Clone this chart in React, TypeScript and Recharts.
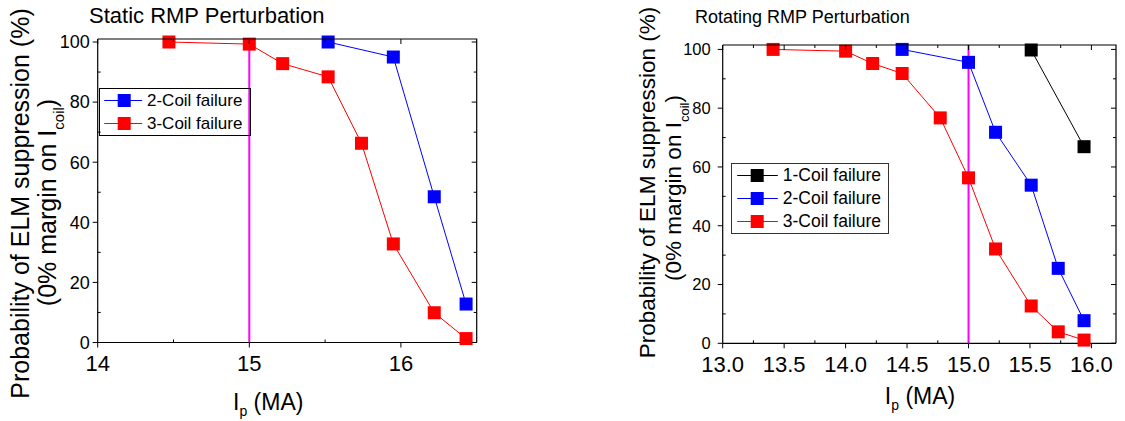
import React from 'react';
import { LineChart, Line, XAxis, YAxis, Legend } from 'recharts';

const FONT = '"Liberation Sans", Arial, Helvetica, sans-serif';

// ---- Static RMP perturbation (left panel) ----
const staticIp2 = [15.52, 15.95, 16.22, 16.43];
const staticP2 = [100, 95, 48.5, 12.8];
const staticIp3 = [14.47, 15.0, 15.22, 15.52, 15.74, 15.95, 16.22, 16.43];
const staticP3 = [100, 99.3, 92.8, 88.4, 66.3, 32.8, 9.9, 1.3];

// ---- Rotating RMP perturbation (right panel) ----
const rotIp1 = [15.51, 15.94];
const rotP1 = [99.8, 66.9];
const rotIp2 = [14.46, 15.0, 15.22, 15.51, 15.73, 15.94];
const rotP2 = [100, 95.6, 71.8, 53.8, 25.5, 7.7];
const rotIp3 = [13.41, 14.0, 14.22, 14.46, 14.77, 15.0, 15.22, 15.51, 15.73, 15.94];
const rotP3 = [100, 99.4, 95.2, 91.8, 76.7, 56.3, 32.1, 12.7, 3.9, 1.1];

// reference plasma current (vertical magenta line)
const ipLimit = 15;

// axes
const staticXDomain = [14, 16.5];
const staticXTicks = [14, 15, 16];
const staticXMinor = [14.5, 15.5];
const rotXDomain = [13, 16.2];
const rotXTicks = [13, 13.5, 14, 14.5, 15, 15.5, 16];
const rotXMinor = [13.25, 13.75, 14.25, 14.75, 15.25, 15.75];
const staticYMax = 101;
const rotYMax = 101.5;
const yTicks = [0, 20, 40, 60, 80, 100];
const yMinor = [10, 30, 50, 70, 90];

const seriesNames = ['1-Coil failure', '2-Coil failure', '3-Coil failure'];
const seriesColors = ['#000000', '#0000FF', '#FF0000'];
const limitColor = '#FF00FF';

const zip = (xs: number[], ys: number[]) => xs.map((x, i) => ({ ip: x, p: ys[i] }));
const vline = (x: number, top: number) => [
  { ip: x, p: 0 },
  { ip: x, p: top },
];

// chart geometry
const L = { left: 0, w: 560, h: 421, top: 39, right: 83.3, yAxisW: 97.7, xAxisH: 78.5 };
const R = { left: 560, w: 565, h: 421, top: 45, right: 9, yAxisW: 162.7, xAxisH: 77.7 };

const squareDot = (color: string, size: number) => (props: any) => {
  const { cx, cy, index } = props;
  if (cx == null || cy == null) return <g key={`e${index}`} />;
  return <rect key={`d${index}`} x={cx - size / 2} y={cy - size / 2} width={size} height={size} fill={color} />;
};

const XTitle = ({ vb, cxOff, dy, size, subDy, subSize }: any) => {
  const cx = vb.x + vb.width / 2 + cxOff;
  const by = vb.y + dy;
  return (
    <text x={cx} y={by} textAnchor="middle" fontSize={size} fontFamily={FONT} fill="#000">
      I
      <tspan dy={subDy} fontSize={subSize}>p</tspan>
      <tspan dy={-subDy}> (MA)</tspan>
    </text>
  );
};

const YTitle = ({ b1, b2, c1, c2, size, subDy, subSize }: any) => (
  <g fontFamily={FONT} fill="#000">
    <text x={b1} y={c1} transform={`rotate(-90 ${b1} ${c1})`} textAnchor="middle" fontSize={size}>
      Probability of ELM suppression (%)
    </text>
    <text x={b2} y={c2} transform={`rotate(-90 ${b2} ${c2})`} textAnchor="middle" fontSize={size}>
      (0% margin on I
      <tspan dy={subDy} fontSize={subSize}>coil</tspan>
      <tspan dy={-subDy}>)</tspan>
    </text>
  </g>
);

const LegendBox = ({ payload, textSize, lineX1, lineX2, markX, svgW, border }: any) => (
  <div style={{ border, boxSizing: 'border-box', fontFamily: FONT, background: 'transparent' }}>
    {(payload || [])
      .filter((e: any) => e.type !== 'none' && seriesNames.includes(e.value))
      .map((e: any) => (
        <div key={e.value} style={{ display: 'flex', alignItems: 'center', height: 23 }}>
          <svg width={svgW} height={23} style={{ display: 'block', flex: 'none' }}>
            <line x1={lineX1} x2={lineX2} y1={11.5} y2={11.5} stroke={e.color} strokeWidth={1} />
            <rect x={markX - 6.5} y={5} width={13} height={13} fill={e.color} />
          </svg>
          <span style={{ fontSize: textSize, color: '#000', whiteSpace: 'nowrap', lineHeight: '23px' }}>
            {e.value}
          </span>
        </div>
      ))}
  </div>
);

const axisLineStyle = { stroke: '#000', strokeWidth: 1.2 };
const tickLineStyle = { stroke: '#000', strokeWidth: 1 };

// Plot-box frame (top & right edges) with inward ticks, placed from the chart geometry
// and the tick arrays.
function Frame({ g, xDomain, xTicks, xMinor, yMax }: any) {
  const [x0, x1] = xDomain;
  const px0 = g.left + g.yAxisW;
  const pw = g.w - g.right - g.yAxisW;
  const py0 = g.top;
  const ph = g.h - g.top - g.xAxisH;
  const sx = (v: number) => px0 + ((v - x0) / (x1 - x0)) * pw;
  const sy = (v: number) => py0 + ph * (1 - v / yMax);
  const right = px0 + pw;
  const bottom = py0 + ph;
  const segs: any[] = [];
  xTicks.forEach((t: number) => segs.push([sx(t), py0, sx(t), py0 + 5]));
  xMinor.forEach((t: number) => segs.push([sx(t), py0, sx(t), py0 + 3]));
  xMinor.forEach((t: number) => segs.push([sx(t), bottom, sx(t), bottom - 3]));
  yTicks.forEach((t: number) => segs.push([right, sy(t), right - 5, sy(t)]));
  yMinor.forEach((t: number) => segs.push([right, sy(t), right - 3, sy(t)]));
  yMinor.forEach((t: number) => segs.push([px0, sy(t), px0 + 3, sy(t)]));
  return (
    <g>
      <polyline points={`${px0},${py0} ${right},${py0} ${right},${bottom}`} fill="none" stroke="#000" strokeWidth={1.2} />
      {segs.map((s, i) => (
        <line key={i} x1={s[0]} y1={s[1]} x2={s[2]} y2={s[3]} stroke="#000" strokeWidth={1} />
      ))}
    </g>
  );
}

function StaticChart() {
  const d2 = zip(staticIp2, staticP2);
  const d3 = zip(staticIp3, staticP3);
  const limit = vline(ipLimit, staticYMax);
  return (
    <LineChart width={L.w} height={L.h} margin={{ top: L.top, right: L.right, bottom: 0, left: 0 }}>
      <XAxis
        xAxisId="x"
        dataKey="ip"
        type="number"
        domain={staticXDomain}
        ticks={staticXTicks}
        interval={0}
        height={L.xAxisH}
        tickSize={5}
        tickMargin={8}
        axisLine={axisLineStyle}
        tickLine={tickLineStyle}
        tick={{ fontSize: 22, fill: '#000', fontFamily: FONT }}
        label={(p: any) => <XTitle vb={p.viewBox} cxOff={-19} dy={67.5} size={23} subDy={6} subSize={14} />}
      />
      <YAxis
        yAxisId="y"
        type="number"
        domain={[0, staticYMax]}
        ticks={yTicks}
        interval={0}
        width={L.yAxisW}
        tickSize={5}
        tickMargin={3}
        axisLine={axisLineStyle}
        tickLine={tickLineStyle}
        tick={{ fontSize: 18, fill: '#000', fontFamily: FONT }}
        label={() => <YTitle b1={28.5} b2={56} c1={203.5} c2={202.5} size={25} subDy={8} subSize={15} />}
      />
      <Line xAxisId="x" yAxisId="y" data={d2} dataKey="p" name={seriesNames[1]} stroke={seriesColors[1]}
        strokeWidth={1} dot={squareDot(seriesColors[1], 13)} activeDot={false} isAnimationActive={false} legendType="square" />
      <Line xAxisId="x" yAxisId="y" data={d3} dataKey="p" name={seriesNames[2]} stroke={seriesColors[2]}
        strokeWidth={1} dot={squareDot(seriesColors[2], 13)} activeDot={false} isAnimationActive={false} legendType="square" />
      <Line xAxisId="x" yAxisId="y" data={limit} dataKey="p" stroke={limitColor}
        strokeWidth={2} dot={false} activeDot={false} isAnimationActive={false} legendType="none" />
      <Legend
        layout="vertical"
        align="center"
        verticalAlign="middle"
        wrapperStyle={{ left: 99, top: 88, width: 152, height: 48 }}
        content={(p: any) => (
          <LegendBox payload={p.payload} textSize={17} lineX1={4.2} lineX2={42.2} markX={24.2} svgW={47}
            border="1.5px solid #000" />
        )}
      />
    </LineChart>
  );
}

function RotatingChart() {
  const d1 = zip(rotIp1, rotP1);
  const d2 = zip(rotIp2, rotP2);
  const d3 = zip(rotIp3, rotP3);
  const limit = vline(ipLimit, rotYMax);
  return (
    <LineChart width={R.w} height={R.h} margin={{ top: R.top, right: R.right, bottom: 0, left: 0 }}>
      <XAxis
        xAxisId="x"
        dataKey="ip"
        type="number"
        domain={rotXDomain}
        ticks={rotXTicks}
        interval={0}
        height={R.xAxisH}
        tickSize={5}
        tickMargin={8}
        axisLine={axisLineStyle}
        tickLine={tickLineStyle}
        tickFormatter={(v: number) => v.toFixed(1)}
        tick={{ fontSize: 22, fill: '#000', fontFamily: FONT }}
        label={(p: any) => <XTitle vb={p.viewBox} cxOff={0.7} dy={60.7} size={23} subDy={6} subSize={14} />}
      />
      <YAxis
        yAxisId="y"
        type="number"
        domain={[0, rotYMax]}
        ticks={yTicks}
        interval={0}
        width={R.yAxisW}
        tickSize={5}
        tickMargin={7}
        axisLine={axisLineStyle}
        tickLine={tickLineStyle}
        tick={{ fontSize: 16.5, fill: '#000', fontFamily: FONT }}
        label={() => <YTitle b1={95} b2={121} c1={182.5} c2={188} size={22.5} subDy={8} subSize={13} />}
      />
      <Line xAxisId="x" yAxisId="y" data={d1} dataKey="p" name={seriesNames[0]} stroke={seriesColors[0]}
        strokeWidth={1} dot={squareDot(seriesColors[0], 13)} activeDot={false} isAnimationActive={false} legendType="square" />
      <Line xAxisId="x" yAxisId="y" data={d2} dataKey="p" name={seriesNames[1]} stroke={seriesColors[1]}
        strokeWidth={1} dot={squareDot(seriesColors[1], 13)} activeDot={false} isAnimationActive={false} legendType="square" />
      <Line xAxisId="x" yAxisId="y" data={d3} dataKey="p" name={seriesNames[2]} stroke={seriesColors[2]}
        strokeWidth={1} dot={squareDot(seriesColors[2], 13)} activeDot={false} isAnimationActive={false} legendType="square" />
      <Line xAxisId="x" yAxisId="y" data={limit} dataKey="p" stroke={limitColor}
        strokeWidth={2} dot={false} activeDot={false} isAnimationActive={false} legendType="none" />
      <Legend
        layout="vertical"
        align="center"
        verticalAlign="middle"
        wrapperStyle={{ left: 171, top: 163, width: 158, height: 71 }}
        content={(p: any) => (
          <LegendBox payload={p.payload} textSize={17.5} lineX1={5.2} lineX2={45.8} markX={25.2} svgW={50.8}
            border="1.5px solid #333" />
        )}
      />
    </LineChart>
  );
}

export default function App() {
  return (
    <div style={{ position: 'absolute', left: 0, top: 0, width: 1125, height: 421, background: '#fff', overflow: 'hidden' }}>
      <div style={{ position: 'absolute', left: 0, top: 0 }}>
        <StaticChart />
      </div>
      <div style={{ position: 'absolute', left: 560, top: 0 }}>
        <RotatingChart />
      </div>
      <svg width={1125} height={421} style={{ position: 'absolute', left: 0, top: 0, pointerEvents: 'none' }}>
        <Frame g={L} xDomain={staticXDomain} xTicks={staticXTicks} xMinor={staticXMinor} yMax={staticYMax} />
        <Frame g={R} xDomain={rotXDomain} xTicks={rotXTicks} xMinor={rotXMinor} yMax={rotYMax} />
        <text x={89} y={23} fontSize={22} fontFamily={FONT} fill="#000">Static RMP Perturbation</text>
        <text x={695} y={22.5} fontSize={18} fontFamily={FONT} fill="#000">Rotating RMP Perturbation</text>
      </svg>
    </div>
  );
}
